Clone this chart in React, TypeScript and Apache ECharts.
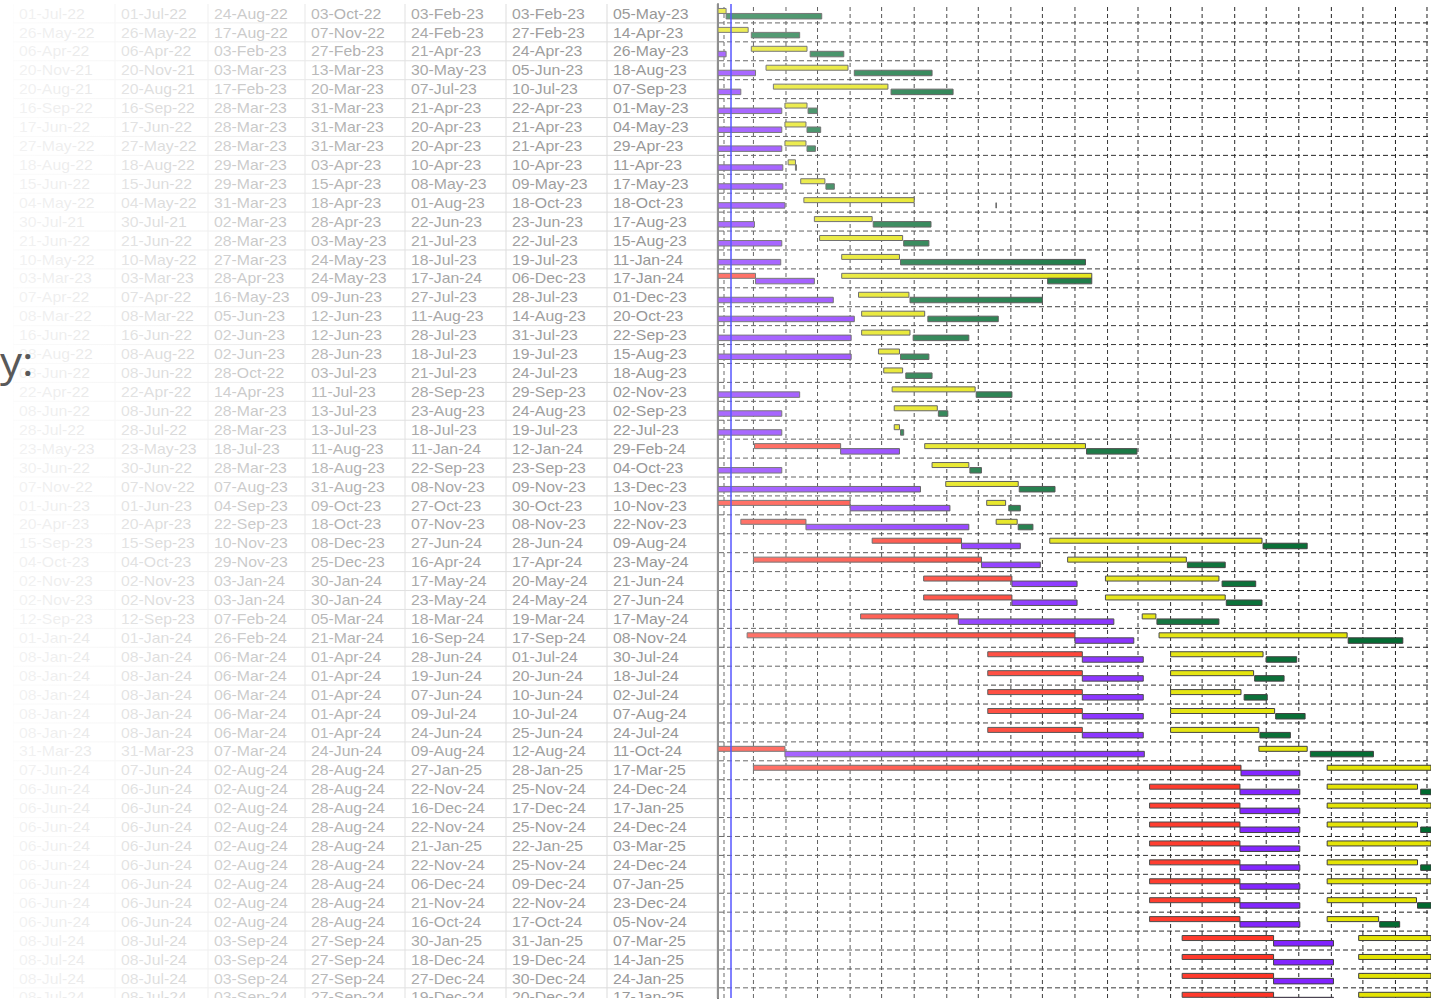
import React, { useEffect, useRef } from "react";
import * as echarts from "echarts";

// ---------------- data ----------------
const COL_REQUEST = [
  "01-Jul-22", "26-May-22", "06-Apr-22", "20-Nov-21", "20-Aug-21", "16-Sep-22", "17-Jun-22", "27-May-22", "18-Aug-22", "15-Jun-22",
  "04-May-22", "30-Jul-21", "21-Jun-22", "10-May-22", "03-Mar-23", "07-Apr-22", "08-Mar-22", "16-Jun-22", "08-Aug-22", "08-Jun-22",
  "22-Apr-22", "08-Jun-22", "28-Jul-22", "23-May-23", "30-Jun-22", "07-Nov-22", "01-Jun-23", "20-Apr-23", "15-Sep-23", "04-Oct-23",
  "02-Nov-23", "02-Nov-23", "12-Sep-23", "01-Jan-24", "08-Jan-24", "08-Jan-24", "08-Jan-24", "08-Jan-24", "08-Jan-24", "31-Mar-23",
  "07-Jun-24", "06-Jun-24", "06-Jun-24", "06-Jun-24", "06-Jun-24", "06-Jun-24", "06-Jun-24", "06-Jun-24", "06-Jun-24", "08-Jul-24",
  "08-Jul-24", "08-Jul-24", "08-Jul-24",
];
const COL_START = [
  "01-Jul-22", "26-May-22", "06-Apr-22", "20-Nov-21", "20-Aug-21", "16-Sep-22", "17-Jun-22", "27-May-22", "18-Aug-22", "15-Jun-22",
  "04-May-22", "30-Jul-21", "21-Jun-22", "10-May-22", "03-Mar-23", "07-Apr-22", "08-Mar-22", "16-Jun-22", "08-Aug-22", "08-Jun-22",
  "22-Apr-22", "08-Jun-22", "28-Jul-22", "23-May-23", "30-Jun-22", "07-Nov-22", "01-Jun-23", "20-Apr-23", "15-Sep-23", "04-Oct-23",
  "02-Nov-23", "02-Nov-23", "12-Sep-23", "01-Jan-24", "08-Jan-24", "08-Jan-24", "08-Jan-24", "08-Jan-24", "08-Jan-24", "31-Mar-23",
  "07-Jun-24", "06-Jun-24", "06-Jun-24", "06-Jun-24", "06-Jun-24", "06-Jun-24", "06-Jun-24", "06-Jun-24", "06-Jun-24", "08-Jul-24",
  "08-Jul-24", "08-Jul-24", "08-Jul-24",
];
const COL_DESIGN_END = [
  "24-Aug-22", "17-Aug-22", "03-Feb-23", "03-Mar-23", "17-Feb-23", "28-Mar-23", "28-Mar-23", "28-Mar-23", "29-Mar-23", "29-Mar-23",
  "31-Mar-23", "02-Mar-23", "28-Mar-23", "27-Mar-23", "28-Apr-23", "16-May-23", "05-Jun-23", "02-Jun-23", "02-Jun-23", "28-Oct-22",
  "14-Apr-23", "28-Mar-23", "28-Mar-23", "18-Jul-23", "28-Mar-23", "07-Aug-23", "04-Sep-23", "22-Sep-23", "10-Nov-23", "29-Nov-23",
  "03-Jan-24", "03-Jan-24", "07-Feb-24", "26-Feb-24", "06-Mar-24", "06-Mar-24", "06-Mar-24", "06-Mar-24", "06-Mar-24", "07-Mar-24",
  "02-Aug-24", "02-Aug-24", "02-Aug-24", "02-Aug-24", "02-Aug-24", "02-Aug-24", "02-Aug-24", "02-Aug-24", "02-Aug-24", "03-Sep-24",
  "03-Sep-24", "03-Sep-24", "03-Sep-24",
];
const COL_BUILD_START = [
  "03-Oct-22", "07-Nov-22", "27-Feb-23", "13-Mar-23", "20-Mar-23", "31-Mar-23", "31-Mar-23", "31-Mar-23", "03-Apr-23", "15-Apr-23",
  "18-Apr-23", "28-Apr-23", "03-May-23", "24-May-23", "24-May-23", "09-Jun-23", "12-Jun-23", "12-Jun-23", "28-Jun-23", "03-Jul-23",
  "11-Jul-23", "13-Jul-23", "13-Jul-23", "11-Aug-23", "18-Aug-23", "31-Aug-23", "09-Oct-23", "18-Oct-23", "08-Dec-23", "25-Dec-23",
  "30-Jan-24", "30-Jan-24", "05-Mar-24", "21-Mar-24", "01-Apr-24", "01-Apr-24", "01-Apr-24", "01-Apr-24", "01-Apr-24", "24-Jun-24",
  "28-Aug-24", "28-Aug-24", "28-Aug-24", "28-Aug-24", "28-Aug-24", "28-Aug-24", "28-Aug-24", "28-Aug-24", "28-Aug-24", "27-Sep-24",
  "27-Sep-24", "27-Sep-24", "27-Sep-24",
];
const COL_BUILD_END = [
  "03-Feb-23", "24-Feb-23", "21-Apr-23", "30-May-23", "07-Jul-23", "21-Apr-23", "20-Apr-23", "20-Apr-23", "10-Apr-23", "08-May-23",
  "01-Aug-23", "22-Jun-23", "21-Jul-23", "18-Jul-23", "17-Jan-24", "27-Jul-23", "11-Aug-23", "28-Jul-23", "18-Jul-23", "21-Jul-23",
  "28-Sep-23", "23-Aug-23", "18-Jul-23", "11-Jan-24", "22-Sep-23", "08-Nov-23", "27-Oct-23", "07-Nov-23", "27-Jun-24", "16-Apr-24",
  "17-May-24", "23-May-24", "18-Mar-24", "16-Sep-24", "28-Jun-24", "19-Jun-24", "07-Jun-24", "09-Jul-24", "24-Jun-24", "09-Aug-24",
  "27-Jan-25", "22-Nov-24", "16-Dec-24", "22-Nov-24", "21-Jan-25", "22-Nov-24", "06-Dec-24", "21-Nov-24", "16-Oct-24", "30-Jan-25",
  "18-Dec-24", "27-Dec-24", "19-Dec-24",
];
const COL_TEST_START = [
  "03-Feb-23", "27-Feb-23", "24-Apr-23", "05-Jun-23", "10-Jul-23", "22-Apr-23", "21-Apr-23", "21-Apr-23", "10-Apr-23", "09-May-23",
  "18-Oct-23", "23-Jun-23", "22-Jul-23", "19-Jul-23", "06-Dec-23", "28-Jul-23", "14-Aug-23", "31-Jul-23", "19-Jul-23", "24-Jul-23",
  "29-Sep-23", "24-Aug-23", "19-Jul-23", "12-Jan-24", "23-Sep-23", "09-Nov-23", "30-Oct-23", "08-Nov-23", "28-Jun-24", "17-Apr-24",
  "20-May-24", "24-May-24", "19-Mar-24", "17-Sep-24", "01-Jul-24", "20-Jun-24", "10-Jun-24", "10-Jul-24", "25-Jun-24", "12-Aug-24",
  "28-Jan-25", "25-Nov-24", "17-Dec-24", "25-Nov-24", "22-Jan-25", "25-Nov-24", "09-Dec-24", "22-Nov-24", "17-Oct-24", "31-Jan-25",
  "19-Dec-24", "30-Dec-24", "20-Dec-24",
];
const COL_FINISH = [
  "05-May-23", "14-Apr-23", "26-May-23", "18-Aug-23", "07-Sep-23", "01-May-23", "04-May-23", "29-Apr-23", "11-Apr-23", "17-May-23",
  "18-Oct-23", "17-Aug-23", "15-Aug-23", "11-Jan-24", "17-Jan-24", "01-Dec-23", "20-Oct-23", "22-Sep-23", "15-Aug-23", "18-Aug-23",
  "02-Nov-23", "02-Sep-23", "22-Jul-23", "29-Feb-24", "04-Oct-23", "13-Dec-23", "10-Nov-23", "22-Nov-23", "09-Aug-24", "23-May-24",
  "21-Jun-24", "27-Jun-24", "17-May-24", "08-Nov-24", "30-Jul-24", "18-Jul-24", "02-Jul-24", "07-Aug-24", "24-Jul-24", "11-Oct-24",
  "17-Mar-25", "24-Dec-24", "17-Jan-25", "24-Dec-24", "03-Mar-25", "24-Dec-24", "07-Jan-25", "23-Dec-24", "05-Nov-24", "07-Mar-25",
  "14-Jan-25", "24-Jan-25", "17-Jan-25",
];
// start of the red (pre-start) phase, estimated from the bars; null where it lies outside the view
const RED_START: (string | null)[] = [
  null, null, null, null, null, null, null, null, null, null,
  null, null, null, null, "02-Jan-23", null, null, null, null, null,
  null, null, null, "02-Mar-23", null, null, "02-Jan-23", "17-Feb-23", "22-Jun-23", "01-Mar-23",
  "10-Aug-23", "10-Aug-23", "11-Jun-23", "23-Feb-23", "10-Oct-23", "10-Oct-23", "10-Oct-23", "10-Oct-23", "10-Oct-23", "02-Jan-23",
  "01-Mar-23", "12-Mar-24", "12-Mar-24", "12-Mar-24", "12-Mar-24", "12-Mar-24", "12-Mar-24", "12-Mar-24", "12-Mar-24", "12-Apr-24",
  "12-Apr-24", "12-Apr-24", "12-Apr-24",
];
const STATUS_DATE = "07-Feb-23";
const SIDE_TEXT = "y:";

const TABLE = [COL_REQUEST, COL_START, COL_DESIGN_END, COL_BUILD_START, COL_BUILD_END, COL_TEST_START, COL_FINISH];

// ---------------- layout / style constants ----------------
const W = 1431;
const H = 1002;
const IMG_BOTTOM = 998;
const TOP = 4;
const ROW_H = 18.92;
const MAX_ROW = (IMG_BOTTOM - TOP) / ROW_H;
const TABLE_LEFT = 13;
const COL_EDGES = [0, 102, 195, 292, 392, 493, 594, 704];
const GANTT_LEFT = 718;
const GANTT_WIDTH = W - GANTT_LEFT;
const PX_PER_DAY = 1.0508;
const FEB1_X = 724;
const DAY = 86400000;

const MONTHS: Record<string, number> = {
  Jan: 0, Feb: 1, Mar: 2, Apr: 3, May: 4, Jun: 5, Jul: 6, Aug: 7, Sep: 8, Oct: 9, Nov: 10, Dec: 11,
};
const parseDate = (s: string) => {
  const [d, m, y] = s.split("-");
  return Date.UTC(2000 + Number(y), MONTHS[m], Number(d));
};

const FEB1 = Date.UTC(2023, 1, 1);
const VIEW_START = FEB1 - ((FEB1_X - GANTT_LEFT) / PX_PER_DAY) * DAY;
const VIEW_END = VIEW_START + (GANTT_WIDTH / PX_PER_DAY) * DAY;

const PHASE_COLORS = ["#ff2b1c", "#7d1cff", "#e3e300", "#006a30"];

export default function App() {
  const ref = useRef<HTMLDivElement>(null);

  useEffect(() => {
    document.body.style.margin = "0";
    if (!ref.current) return;
    const chart = echarts.init(ref.current, undefined, { renderer: "svg" });

    const cells: number[][] = [];
    for (let r = 0; r < COL_REQUEST.length; r++) {
      for (let c = 0; c < TABLE.length; c++) cells.push([c, r]);
    }

    const bars: number[][] = [];
    for (let r = 0; r < COL_REQUEST.length; r++) {
      const rs = RED_START[r];
      if (rs) bars.push([r, parseDate(rs), parseDate(COL_REQUEST[r]), 0]);
      bars.push([r, parseDate(COL_START[r]), parseDate(COL_DESIGN_END[r]), 1]);
      bars.push([r, parseDate(COL_BUILD_START[r]), parseDate(COL_BUILD_END[r]), 2]);
      bars.push([r, parseDate(COL_TEST_START[r]), parseDate(COL_FINISH[r]), 3]);
    }

    // month boundaries used as the vertical grid of the time scale
    const monthTicks: number[] = [];
    for (let i = 0; i < 23; i++) monthTicks.push(Date.UTC(2023, 1 + i, 1));
    const rowBounds: number[] = [];
    for (let r = 1; r <= Math.floor(MAX_ROW); r++) rowBounds.push(r);

    const option: any = {
      animation: false,
      grid: [
        { left: TABLE_LEFT, top: TOP, width: COL_EDGES[COL_EDGES.length - 1], height: IMG_BOTTOM - TOP },
        { left: GANTT_LEFT, top: TOP, width: GANTT_WIDTH, height: IMG_BOTTOM - TOP },
      ],
      xAxis: [
        { type: "value", gridIndex: 0, min: 0, max: COL_EDGES[COL_EDGES.length - 1], show: false },
        { type: "time", gridIndex: 1, min: VIEW_START, max: VIEW_END, show: false },
      ],
      yAxis: [
        { type: "value", gridIndex: 0, min: 0, max: MAX_ROW, inverse: true, show: false },
        {
          type: "value", gridIndex: 1, min: 0, max: MAX_ROW, inverse: true,
          axisLine: { show: true, lineStyle: { color: "#555", width: 2 } },
          axisTick: { show: false }, axisLabel: { show: false }, splitLine: { show: false },
        },
      ],
      series: [
        {
          type: "custom",
          name: "table",
          xAxisIndex: 0,
          yAxisIndex: 0,
          clip: true,
          silent: true,
          data: cells,
          renderItem: (params: any, api: any) => {
            const c = api.value(0);
            const r = api.value(1);
            const tl = api.coord([COL_EDGES[c], r]);
            const br = api.coord([COL_EDGES[c + 1], r + 1]);
            const mid = api.coord([COL_EDGES[c], r + 0.5]);
            const children: any[] = [
              { type: "line", shape: { x1: br[0], y1: tl[1], x2: br[0], y2: br[1] }, style: { stroke: "#c4c4c4", lineWidth: 1 } },
              { type: "line", shape: { x1: tl[0], y1: br[1], x2: br[0], y2: br[1] }, style: { stroke: "#c4c4c4", lineWidth: 1 } },
              {
                type: "text", x: mid[0] + 6, y: mid[1], scaleX: 1.13,
                style: { text: TABLE[c][r], font: '14px "Liberation Sans", Arial, sans-serif', fill: "#5a5a5a", verticalAlign: "middle", align: "left" },
              },
            ];
            if (c === 0) children.push({ type: "line", shape: { x1: tl[0], y1: tl[1], x2: tl[0], y2: br[1] }, style: { stroke: "#c4c4c4", lineWidth: 1 } });
            return { type: "group", children };
          },
        },
        {
          type: "custom",
          name: "rowGrid",
          xAxisIndex: 1,
          yAxisIndex: 1,
          silent: true,
          data: rowBounds,
          encode: { y: 0 },
          renderItem: (params: any, api: any) => {
            const cs = params.coordSys;
            const y = api.coord([VIEW_START, api.value(0)])[1];
            return { type: "line", shape: { x1: cs.x + 1, y1: y, x2: cs.x + cs.width, y2: y }, style: { stroke: "#1e1e1e", lineWidth: 1, lineDash: [5, 3] } };
          },
        },
        {
          type: "custom",
          name: "monthGrid",
          xAxisIndex: 1,
          yAxisIndex: 1,
          silent: true,
          data: monthTicks,
          encode: { x: 0 },
          renderItem: (params: any, api: any) => {
            const cs = params.coordSys;
            const x = api.coord([api.value(0), 0])[0];
            if (x < cs.x || x > cs.x + cs.width) return null;
            return { type: "line", shape: { x1: x, y1: cs.y + 3, x2: x, y2: cs.y + cs.height }, style: { stroke: "#1e1e1e", lineWidth: 1, lineDash: [4, 3] } };
          },
        },
        {
          type: "custom",
          name: "phases",
          xAxisIndex: 1,
          yAxisIndex: 1,
          clip: true,
          silent: true,
          data: bars,
          encode: { x: [1, 2], y: 0 },
          renderItem: (params: any, api: any) => {
            const cs = params.coordSys;
            const r = api.value(0);
            const phase = api.value(3);
            const p0 = api.coord([api.value(1), r + 0.5]);
            const p1 = api.coord([api.value(2), r + 0.5]);
            const upper = phase % 2 === 0;
            const rect = {
              x: p0[0],
              y: upper ? p0[1] - 5 : p0[1],
              width: Math.max(p1[0] - p0[0], 0),
              height: upper ? 5 : 5.5,
            };
            const shape = echarts.graphic.clipRectByRect(rect, { x: cs.x, y: cs.y, width: cs.width, height: cs.height });
            if (!shape) return null;
            return { type: "rect", shape, style: { fill: PHASE_COLORS[phase], stroke: "#3a3a3a", lineWidth: 1 } };
          },
          markLine: {
            silent: true,
            symbol: ["none", "none"],
            label: { show: false },
            lineStyle: { color: "#0000ff", width: 1.5, type: "solid" },
            data: [{ xAxis: parseDate(STATUS_DATE) }],
          },
        },
      ],
      graphic: {
        elements: [
          {
            type: "rect",
            z: 100,
            silent: true,
            shape: { x: 0, y: 0, width: W, height: IMG_BOTTOM },
            style: {
              fill: new echarts.graphic.LinearGradient(0, 0, 1, 0, [
                { offset: 0, color: "rgba(255,255,255,0.93)" },
                { offset: 0.04, color: "rgba(255,255,255,0.9)" },
                { offset: 0.11, color: "rgba(255,255,255,0.8)" },
                { offset: 0.18, color: "rgba(255,255,255,0.67)" },
                { offset: 0.25, color: "rgba(255,255,255,0.52)" },
                { offset: 0.32, color: "rgba(255,255,255,0.45)" },
                { offset: 0.4, color: "rgba(255,255,255,0.4)" },
                { offset: 0.47, color: "rgba(255,255,255,0.36)" },
                { offset: 0.55, color: "rgba(255,255,255,0.32)" },
                { offset: 0.65, color: "rgba(255,255,255,0.22)" },
                { offset: 0.75, color: "rgba(255,255,255,0.13)" },
                { offset: 0.87, color: "rgba(255,255,255,0.05)" },
                { offset: 1, color: "rgba(255,255,255,0)" },
              ]),
            },
          },
          {
            type: "text",
            z: 101,
            silent: true,
            x: 0,
            y: 360,
            scaleX: 1.1,
            style: { text: SIDE_TEXT, font: '40px "Open Sans", "Noto Sans", sans-serif', fill: "#595959", verticalAlign: "middle" },
          },
        ],
      },
    };

    chart.setOption(option);
    return () => chart.dispose();
  }, []);

  return <div ref={ref} style={{ position: "absolute", left: 0, top: 0, width: W, height: H }} />;
}
